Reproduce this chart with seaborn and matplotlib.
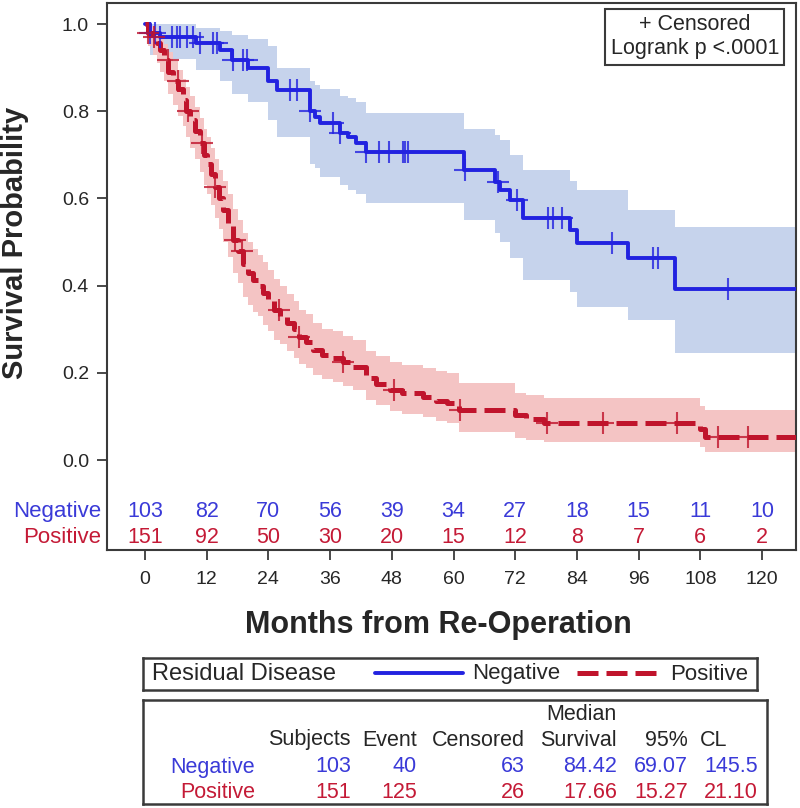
import numpy as np
import matplotlib
matplotlib.use('Agg')
import matplotlib.pyplot as plt
import seaborn as sns

# Kaplan-Meier steps (months, survival, 95% band)
neg_t = [0, 1, 3, 10, 14.6, 17, 20, 24, 25.7, 32, 33, 34, 38, 39.5, 41, 43,
         62, 68, 69, 71, 73.5, 82.7, 84, 94, 103]
neg_s = [1.0, 0.98, 0.97, 0.956, 0.94, 0.917, 0.90, 0.87, 0.849, 0.80, 0.787, 0.773,
         0.75, 0.74, 0.727, 0.707, 0.665, 0.638, 0.62, 0.596, 0.555, 0.527, 0.497,
         0.463, 0.392]
neg_lo = [1.0, 0.93, 0.92, 0.895, 0.87, 0.84, 0.82, 0.78, 0.74, 0.68, 0.67, 0.65,
          0.63, 0.62, 0.61, 0.589, 0.55, 0.52, 0.50, 0.463, 0.413, 0.385, 0.351,
          0.321, 0.245]
neg_hi = [1.0, 1.0, 1.0, 0.99, 0.985, 0.975, 0.965, 0.95, 0.90, 0.87, 0.86, 0.85,
          0.835, 0.83, 0.82, 0.795, 0.76, 0.745, 0.734, 0.70, 0.665, 0.64, 0.62,
          0.573, 0.535]
neg_cens = [1, 2, 3, 5.3, 6.2, 6.8, 8.2, 9.3, 10.7, 13.2, 14, 17.1, 19, 19.8, 28.2,
            29.6, 32.1, 36.6, 38, 43, 45.5, 47.4, 50.2, 50.6, 51.2, 62.2, 68.6, 72.3,
            78.4, 79.3, 81.1, 90.8, 98.8, 99.8, 113.4]

pos_t = [0, 0.5, 1.5, 2.3, 3, 3.6, 4.5, 5.5, 6.5, 7.4, 8, 8.7, 9.7, 10.7, 11.4, 12,
         12.8, 13.6, 14.4, 15.2, 16.2, 17.1, 18, 19, 20, 21, 22, 23, 24, 25, 26.3,
         27.6, 29, 30, 31.3, 32.7, 34.5, 36.6, 38.5, 40.5, 43, 45, 47.7, 50, 54,
         56.5, 58.7, 61, 72, 74, 77.5, 108, 109]
pos_s = [1.0, 0.98, 0.97, 0.956, 0.94, 0.917, 0.89, 0.87, 0.85, 0.826, 0.80, 0.78,
         0.755, 0.727, 0.70, 0.68, 0.655, 0.626, 0.60, 0.573, 0.54, 0.505, 0.48, 0.45,
         0.43, 0.413, 0.40, 0.383, 0.365, 0.344, 0.33, 0.314, 0.30, 0.282, 0.27,
         0.252, 0.24, 0.234, 0.225, 0.213, 0.188, 0.175, 0.16, 0.153, 0.145, 0.135,
         0.13, 0.115, 0.103, 0.094, 0.085, 0.07, 0.053]
pos_lo = [1.0, 0.95, 0.93, 0.91, 0.89, 0.87, 0.84, 0.815, 0.79, 0.765, 0.74, 0.715,
          0.69, 0.66, 0.63, 0.61, 0.585, 0.555, 0.53, 0.50, 0.465, 0.43, 0.405,
          0.375, 0.355, 0.34, 0.33, 0.31, 0.295, 0.275, 0.265, 0.25, 0.235, 0.22,
          0.21, 0.195, 0.185, 0.18, 0.17, 0.16, 0.138, 0.126, 0.112, 0.105, 0.098,
          0.09, 0.085, 0.064, 0.05, 0.045, 0.041, 0.03, 0.018]
pos_hi = [1.0, 0.995, 0.99, 0.98, 0.97, 0.955, 0.935, 0.915, 0.895, 0.875, 0.855,
          0.835, 0.81, 0.785, 0.76, 0.74, 0.715, 0.69, 0.665, 0.64, 0.61, 0.575,
          0.55, 0.52, 0.50, 0.485, 0.47, 0.455, 0.435, 0.415, 0.40, 0.38, 0.365,
          0.345, 0.335, 0.315, 0.30, 0.295, 0.285, 0.275, 0.25, 0.238, 0.225, 0.218,
          0.21, 0.205, 0.20, 0.176, 0.154, 0.148, 0.142, 0.125, 0.115]
pos_cens = [0.5, 1.8, 4.4, 6.4, 8.4, 11, 13.6, 17.5, 18.8, 26, 30, 38.6, 48.4, 61.3,
            78.2, 89, 103.5, 111.4, 117.3]

risk_months = [0, 12, 24, 36, 48, 60, 72, 84, 96, 108, 120]
neg_risk = [103, 82, 70, 56, 39, 34, 27, 18, 15, 11, 10]
pos_risk = [151, 92, 50, 30, 20, 15, 12, 8, 7, 6, 2]

stat_cols = ['Subjects', 'Event', 'Censored', 'Survival', '95%']
neg_stats = ['103', '40', '63', '84.42', '69.07', '145.5']
pos_stats = ['151', '125', '26', '17.66', '15.27', '21.10']

BLUE = '#2222e0'
RED = '#c0142c'
BLUE_FILL = '#c6d3ec'
RED_FILL = '#f4c4c4'
BLUE_TXT = '#3a3ad8'
RED_TXT = '#c41a36'
EDGE = '#3a3a3a'

sns.set_style('ticks')
plt.rcParams['font.family'] = ['Liberation Sans', 'DejaVu Sans']

W, H = 800, 808
fig = plt.figure(figsize=(8, 8.08), dpi=100)


def px_axes(x0, y0, x1, y1):
    # axes from pixel box (top-left origin)
    return fig.add_axes([x0 / W, 1 - y1 / H, (x1 - x0) / W, (y1 - y0) / H])


ax = px_axes(107, 3, 796, 550)
xmax = 126.6


def step_at(t, s, c):
    idx = np.searchsorted(t, c, side='right') - 1
    return np.asarray(s)[idx]


groups = [(neg_t, neg_s, neg_lo, neg_hi, neg_cens, BLUE, BLUE_FILL, False),
          (pos_t, pos_s, pos_lo, pos_hi, pos_cens, RED, RED_FILL, True)]

for t, s, lo, hi, cens, col, fill, dashed in groups:
    tt = np.append(t, xmax + 1)
    ax.fill_between(tt, np.append(lo, lo[-1]), np.append(hi, hi[-1]), step='post',
                    color=fill, lw=0, zorder=1)

for t, s, lo, hi, cens, col, fill, dashed in groups:
    tt = np.append(t, xmax + 1)
    ss = np.append(s, s[-1])
    sns.lineplot(x=tt, y=ss, drawstyle='steps-post', color=col,
                 lw=3.6 if dashed else 2.8, ax=ax, zorder=3)
    if dashed:
        ax.lines[-1].set_dashes((4.2, 1.6))
    sns.scatterplot(x=cens, y=step_at(t, s, cens), marker='+', s=240, color=col,
                    linewidth=1.5, alpha=0.8, ax=ax, zorder=4)

ax.set_xlim(-7.39, xmax)
ax.set_ylim(-0.2064, 1.0482)
ax.set_yticks([0, 0.2, 0.4, 0.6, 0.8, 1.0])
ax.set_yticklabels(['0.0', '0.2', '0.4', '0.6', '0.8', '1.0'])
ax.set_xticks(risk_months)
ax.tick_params(axis='both', labelsize=14, length=7, width=1.3, color=EDGE, pad=6)
ax.tick_params(axis='x', pad=8)
for sp in ax.spines.values():
    sp.set_color(EDGE)
    sp.set_linewidth(1.5)
ax.set_xlabel('')
ax.set_ylabel('')

# number at risk inside the plot box
for m, a, b in zip(risk_months, neg_risk, pos_risk):
    ax.text(m, -0.118, str(a), color=BLUE_TXT, fontsize=15.5, ha='center', va='center')
    ax.text(m, -0.178, str(b), color=RED_TXT, fontsize=15.5, ha='center', va='center')
ytr = ax.get_yaxis_transform()
ax.text(-0.009, -0.118, 'Negative', color=BLUE_TXT, fontsize=16, ha='right',
        va='center', transform=ytr)
ax.text(-0.009, -0.178, 'Positive', color=RED_TXT, fontsize=16, ha='right',
        va='center', transform=ytr)

# censored / logrank box
ax.text(0.853, 0.9385, '+ Censored\nLogrank p <.0001', transform=ax.transAxes,
        fontsize=15.5, ha='center', va='center', linespacing=1.2,
        bbox=dict(boxstyle='square,pad=0.25', fc='white', ec=EDGE, lw=1.5), zorder=6)

fig.text(438 / W, 1 - 625 / H, 'Months from Re-Operation', fontsize=22,
         fontweight='bold', ha='center', va='center')
fig.text(15 / W, 1 - 243 / H, 'Survival Probability', fontsize=21,
         fontweight='bold', ha='center', va='center', rotation=90)

# legend strip
lax = px_axes(143, 658, 757, 690)
lax.set_xlim(143, 757)
lax.set_ylim(0, 1)
lax.set_xticks([])
lax.set_yticks([])
for sp in lax.spines.values():
    sp.set_color(EDGE)
    sp.set_linewidth(1.8)
lax.text(152, 0.5, 'Residual Disease', fontsize=17, ha='left', va='center')
lax.plot([375, 463], [0.52, 0.52], color=BLUE, lw=2.8)
lax.text(472, 0.5, 'Negative', fontsize=16, ha='left', va='center')
lax.plot([577, 662], [0.52, 0.52], color=RED, lw=3.6, dashes=(4.2, 1.6))
lax.text(670, 0.5, 'Positive', fontsize=16, ha='left', va='center')

# summary table
tax = px_axes(143, 700, 767, 804)
tax.set_xlim(143, 767)
tax.set_ylim(804, 700)
tax.set_xticks([])
tax.set_yticks([])
for sp in tax.spines.values():
    sp.set_color(EDGE)
    sp.set_linewidth(1.8)
col_right = [351, 417, 525, 617, 688, 758]
fs = 15.5
tax.text(617, 715, 'Median', fontsize=fs, ha='right', va='center')
for xr, name in zip(col_right[:5], stat_cols):
    tax.text(xr, 740, name, fontsize=fs, ha='right', va='center')
tax.text(700, 740, 'CL', fontsize=fs, ha='left', va='center')
tax.text(255, 767, 'Negative', fontsize=fs, ha='right', va='center', color=BLUE_TXT)
tax.text(255, 792, 'Positive', fontsize=fs, ha='right', va='center', color=RED_TXT)
for xr, a, b in zip(col_right, neg_stats, pos_stats):
    tax.text(xr, 767, a, fontsize=fs, ha='right', va='center', color=BLUE_TXT)
    tax.text(xr, 792, b, fontsize=fs, ha='right', va='center', color=RED_TXT)

fig.savefig('out.png', dpi=100)
